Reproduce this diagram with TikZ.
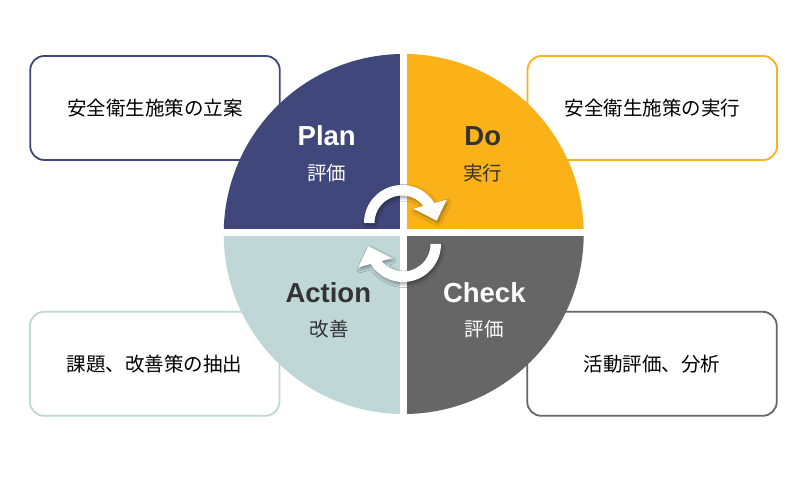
\documentclass[tikz,border=0pt]{standalone}
\usepackage{fontspec}
\setmainfont{Liberation Sans}
\newfontfamily\jpfont{Noto Sans CJK JP}
\usetikzlibrary{shadows.blur}
\definecolor{plancol}{RGB}{64,71,122}
\definecolor{docol}{RGB}{251,178,24}
\definecolor{actcol}{RGB}{191,215,215}
\definecolor{chkcol}{RGB}{102,102,102}
\definecolor{darktext}{RGB}{51,51,51}
\tikzset{
  infobox/.style={draw, line width=1.8pt, rounded corners=14pt, fill=white,
    minimum width=249.5pt, minimum height=104pt, inner sep=0pt,
    font=\jpfont\fontsize{19.5}{22}\selectfont, text=black},
  titletext/.style={font=\bfseries\fontsize{27.5}{30}\selectfont, anchor=base, inner sep=0pt},
  subtext/.style={font=\jpfont\fontsize{19.5}{22}\selectfont, inner sep=0pt},
  cyclearrow/.style={fill=white, blur shadow={shadow xshift=1.5pt, shadow yshift=-2.5pt, shadow blur radius=3pt, shadow opacity=35}}
}
\begin{document}
\begin{tikzpicture}[x=1pt,y=1pt]
\useasboundingbox[fill=white] (0,0) rectangle (810,481);
% side boxes
\node[infobox, draw=plancol] (tl) at (155,373) {安全衛生施策の立案};
\node[infobox, draw=docol]   (tr) at (652.3,373) {安全衛生施策の実行};
\node[infobox, draw=actcol]  (bl) at (154.7,117.2) {課題、改善策の抽出};
\node[infobox, draw=chkcol]  (br) at (652,117.2) {活動評価、分析};
% circle quadrants
\coordinate (cc) at (403.7,247);
\begin{scope}
  \clip (cc) circle (180);
  \fill[plancol] (220,251.7) rectangle (400,430);
  \fill[docol]   (407.3,251.7) rectangle (590,430);
  \fill[actcol]  (220,245) rectangle (400,60);
  \fill[chkcol]  (407.3,245) rectangle (590,60);
\end{scope}
% labels
\node[titletext, text=white]    (plan)   at (326.7,335) {Plan};
\node[titletext, text=darktext] (do)     at (482.8,335) {Do};
\node[titletext, text=darktext] (action) at (328.3,178.3) {Action};
\node[titletext, text=white]    (check)  at (484.3,178.3) {Check};
\node[subtext, text=white]    (plansub)   at (326.7,308.2) {評価};
\node[subtext, text=darktext] (dosub)     at (482.8,308.2) {実行};
\node[subtext, text=darktext] (actionsub) at (329.3,152) {改善};
\node[subtext, text=white]    (checksub)  at (484.3,152) {評価};
% cycle arrows
\begin{scope}[shift={(402,258)}]
  \path[cyclearrow] (-38,0) arc[start angle=180, end angle=31.7, radius=38]
    -- (44.7,23.3) -- (34.7,2.3) -- (11.3,14.3) -- (21.56,17.07)
    arc[start angle=38.4, end angle=180, radius=27.5] -- cycle;
\end{scope}
\begin{scope}[shift={(403,237)}]
  \path[cyclearrow] (38,0) arc[start angle=0, end angle=-148.3, radius=38]
    -- (-44.7,-23.3) -- (-34.7,-2.3) -- (-11.3,-14.3) -- (-21.56,-17.07)
    arc[start angle=-141.6, end angle=0, radius=27.5] -- cycle;
\end{scope}
\end{tikzpicture}
\end{document}
